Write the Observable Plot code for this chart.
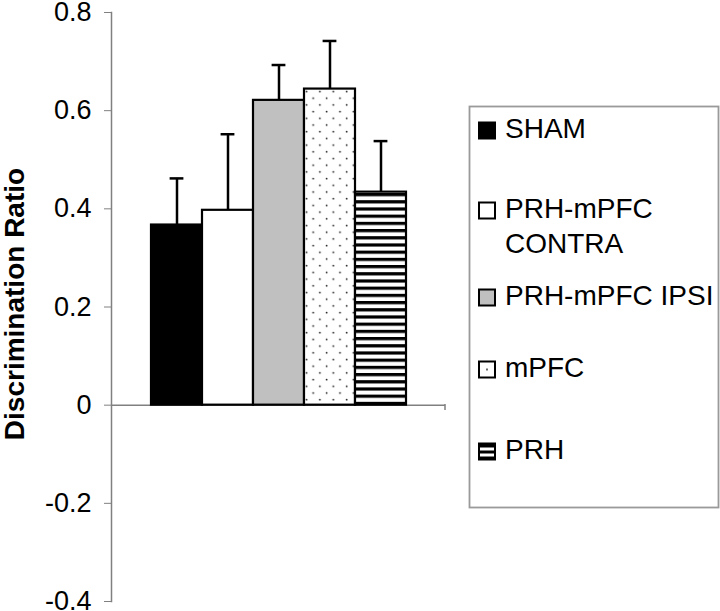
<!DOCTYPE html>
<html><head><meta charset="utf-8">
<script src="https://cdn.jsdelivr.net/npm/d3@7"></script>
<script src="https://cdn.jsdelivr.net/npm/@observablehq/plot@0.6"></script>
<style>body{margin:0;background:#fff}</style>
</head><body><div id="chart"></div>
<script>
// ---- data ----
const groups = ["SHAM", "PRH-mPFC CONTRA", "PRH-mPFC IPSI", "mPFC", "PRH"];
const means  = [0.367, 0.397, 0.621, 0.644, 0.434];
const errors = [0.095, 0.155, 0.072, 0.098, 0.104];
const legendLabels = [["SHAM"], ["PRH-mPFC", "CONTRA"], ["PRH-mPFC IPSI"], ["mPFC"], ["PRH"]];
const yTicks = [-0.4, -0.2, 0, 0.2, 0.4, 0.6, 0.8];
const yTitle = "Discrimination Ratio";
const fills = ["#000000", "#ffffff", "#c0c0c0", "url(#dots)", "url(#stripes)"];

const data = groups.map((g, i) => ({group: g, mean: means[i], err: errors[i], top: means[i] + errors[i]}));

const W = 720, H = 611;
const font = "'Liberation Sans', Arial, sans-serif";

const plot = Plot.plot({
  width: W, height: H,
  marginLeft: 111, marginRight: 275, marginTop: 12, marginBottom: 10,
  style: {fontFamily: font, fontSize: "27px", background: "white", color: "black"},
  x: {domain: groups, range: [150, 406], padding: 0, axis: null},
  y: {domain: [-0.4, 0.8]},
  marks: [
    Plot.axisY({ticks: yTicks, tickFormat: d => d === 0 ? "0" : d.toFixed(1), tickSize: 7, tickPadding: 13,
                stroke: "#808080", fill: "black", fontSize: 27, label: null}),
    Plot.frame({anchor: "left", stroke: "#808080", strokeWidth: 1.5}),
    Plot.ruleY([0], {stroke: "#808080", strokeWidth: 1.5}),
    ...data.map((d, i) => Plot.barY([d], {x: "group", y: "mean", fill: fills[i], stroke: "black", strokeWidth: 2.2})),
    Plot.ruleX(data, {x: "group", y1: "mean", y2: "top", stroke: "black", strokeWidth: 2.5}),
    Plot.tickY(data, {x: "group", y: "top", stroke: "black", strokeWidth: 2.5, insetLeft: 18.6, insetRight: 18.6})
  ]
});

document.getElementById("chart").appendChild(plot);

const svg = d3.select(plot);
const defs = svg.insert("defs", ":first-child");
// dotted pattern
const dots = defs.append("pattern").attr("id", "dots").attr("patternUnits", "userSpaceOnUse")
  .attr("width", 13.4).attr("height", 13.4).attr("x", 303).attr("y", 88);
dots.append("rect").attr("width", 13.4).attr("height", 13.4).attr("fill", "white");
dots.append("circle").attr("cx", 3.5).attr("cy", 3.5).attr("r", 0.9).attr("fill", "#222");
dots.append("circle").attr("cx", 10.2).attr("cy", 10.2).attr("r", 0.9).attr("fill", "#222");
// striped pattern
const stripes = defs.append("pattern").attr("id", "stripes").attr("patternUnits", "userSpaceOnUse")
  .attr("width", 10).attr("height", 7.2).attr("x", 0).attr("y", 193);
stripes.append("rect").attr("width", 10).attr("height", 7.2).attr("fill", "white");
stripes.append("rect").attr("width", 10).attr("height", 3.2).attr("fill", "black");

// y title
svg.append("text")
  .attr("transform", "translate(24,304) rotate(-90)")
  .attr("text-anchor", "middle")
  .attr("font-family", font).attr("font-size", 28).attr("font-weight", "bold")
  .attr("fill", "black")
  .text(yTitle);

// end tick of category axis
svg.append("line").attr("x1", 445).attr("x2", 445).attr("y1", 404).attr("y2", 410)
  .attr("stroke", "#808080").attr("stroke-width", 1.5);

// legend
const lg = svg.append("g").attr("font-family", font).attr("font-size", 28).attr("fill", "black")
  .attr("text-anchor", "start");
lg.append("rect").attr("x", 469.5).attr("y", 106.5).attr("width", 249).attr("height", 401)
  .attr("fill", "white").attr("stroke", "#9a9a9a").attr("stroke-width", 1.8);
const baselines = [138, 218, 305, 377, 459];
const lineGap = 35;
// swatch patterns
const sdots = defs.append("pattern").attr("id", "sdots").attr("patternUnits", "objectBoundingBox")
  .attr("width", 1).attr("height", 1);
sdots.append("rect").attr("width", 16).attr("height", 16).attr("fill", "white");
sdots.append("circle").attr("cx", 8).attr("cy", 8).attr("r", 0.9).attr("fill", "#222");
const sstripes = defs.append("pattern").attr("id", "sstripes").attr("patternUnits", "objectBoundingBox")
  .attr("width", 1).attr("height", 1);
sstripes.append("rect").attr("width", 16).attr("height", 16).attr("fill", "white");
sstripes.append("rect").attr("y", 0).attr("width", 16).attr("height", 4).attr("fill", "black");
sstripes.append("rect").attr("y", 7).attr("width", 16).attr("height", 3).attr("fill", "black");
sstripes.append("rect").attr("y", 13).attr("width", 16).attr("height", 4).attr("fill", "black");
const swatchFills = ["#000000", "#ffffff", "#c0c0c0", "url(#sdots)", "url(#sstripes)"];

legendLabels.forEach((lines, i) => {
  const b = baselines[i];
  lg.append("rect").attr("x", 479).attr("y", b - 15.5).attr("width", 16).attr("height", 16)
    .attr("fill", swatchFills[i]).attr("stroke", "black").attr("stroke-width", 2);
  lines.forEach((t, j) => {
    lg.append("text").attr("x", 505).attr("y", b + j * lineGap).text(t);
  });
});
</script>
</body></html>
